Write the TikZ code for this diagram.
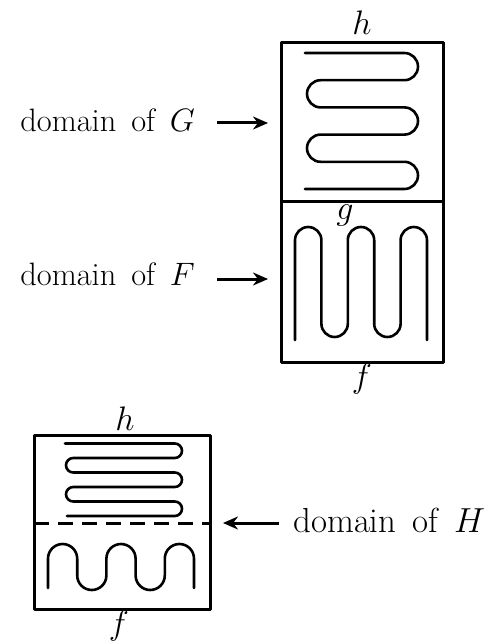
\RequirePackage{fix-cm}
\documentclass[tikz,border=0pt]{standalone}
\usetikzlibrary{arrows.meta}
\newcommand{\wsp}{\hspace{0.46em}}
\begin{document}
\begin{tikzpicture}[x=0.5pt,y=-0.5pt,
  frame/.style={line width=1.5pt, line join=round},
  curve/.style={line width=1.3pt, line cap=round, line join=round},
  lbl/.style={inner sep=0pt, font=\fontsize{16.2}{20}\selectfont},
  lblbig/.style={inner sep=0pt, font=\fontsize{17.4}{21}\selectfont},
  var/.style={inner sep=0pt, font=\fontsize{17}{20}\selectfont},
  ptr/.style={line width=1.5pt, -{Stealth[length=7.5pt,width=6.5pt]}}]
\useasboundingbox (0,0) rectangle (498,642);

% ---------- upper figure ----------
\draw[frame] (281,43) rectangle (443,362);
\draw[frame] (281,201) -- (443,201);
\node[var, anchor=base] (h1) at (362,35) {$h$};
\node[var, anchor=base] (g1) at (345,219) {$g$};
\node[var, anchor=base] (f1) at (362,387) {$f$};

% horizontal serpentine (domain of G)
\draw[curve, rounded corners=6.8pt]
  (305,53) -- (418,53) -- (418,80.2) -- (307,80.2) -- (307,107.4)
  -- (418,107.4) -- (418,134.6) -- (307,134.6) -- (307,161.8)
  -- (418,161.8) -- (418,189) -- (305,189);

% vertical serpentine (domain of F)
\draw[curve, rounded corners=6.6pt]
  (295,340) -- (295,227) -- (321.4,227) -- (321.4,337) -- (347.8,337)
  -- (347.8,227) -- (374.2,227) -- (374.2,337) -- (400.6,337)
  -- (400.6,227) -- (427,227) -- (427,340);

\node[lbl, anchor=base west] (dG) at (20,131.5) {domain\wsp of\wsp $G$};
\node[lbl, anchor=base west] (dF) at (20,285.5) {domain\wsp of\wsp $F$};
\coordinate (sG) at (217,123);
\coordinate (tG) at (268,123);
\coordinate (sF) at (217,279);
\coordinate (tF) at (268,279);
\draw[ptr] (sG) -- (tG);
\draw[ptr] (sF) -- (tF);

% ---------- lower figure ----------
\draw[frame] (34,435) rectangle (210,609);
\draw[frame, dashed, dash pattern=on 7.5pt off 4.5pt] (34,523) -- (210,523);
\node[var, anchor=base] (h2) at (125,430) {$h$};
\node[var, anchor=base] (f2) at (119,634) {$f$};

\draw[curve, rounded corners=3.62pt]
  (65,443.5) -- (182,443.5) -- (182,458) -- (66,458) -- (66,472.5)
  -- (182,472.5) -- (182,487) -- (66,487) -- (66,501.5)
  -- (182,501.5) -- (182,516) -- (67,516);

\draw[curve, rounded corners=7.3pt]
  (48,588) -- (48,544) -- (77.2,544) -- (77.2,590) -- (106.4,590)
  -- (106.4,544) -- (135.6,544) -- (135.6,590) -- (164.8,590)
  -- (164.8,544) -- (194,544) -- (194,588);

\node[lblbig, anchor=base west] (dH) at (293,532.5) {domain\wsp of\wsp $H$};
\coordinate (sH) at (279,523);
\coordinate (tH) at (223,523);
\draw[ptr] (sH) -- (tH);
\end{tikzpicture}
\end{document}
